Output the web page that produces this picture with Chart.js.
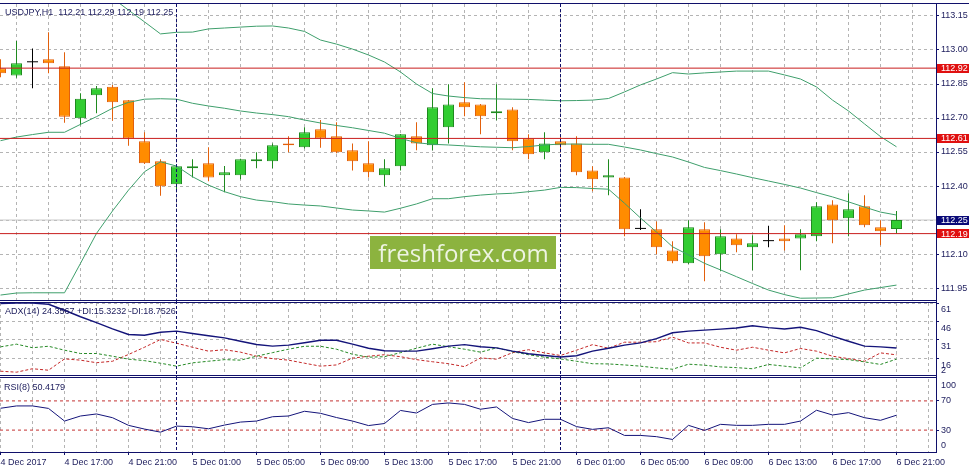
<!DOCTYPE html>
<html>
<head>
<meta charset="utf-8">
<script src="https://cdn.jsdelivr.net/npm/chart.js@4.4.1/dist/chart.umd.min.js"></script>
<style>
html, body { margin: 0; padding: 0; background: #fff; }
#wrap { position: relative; width: 969px; height: 469px; overflow: hidden; background: #fff; }
#wrap canvas { position: absolute; left: 0; }
</style>
</head>
<body>
<div id="wrap">
  <canvas id="main" width="969" height="301" style="top:0"></canvas>
  <canvas id="adx" width="969" height="76" style="top:301px"></canvas>
  <canvas id="rsi" width="969" height="92" style="top:377px"></canvas>
</div>
<script>
// USDJPY H1, one value per candle (index 0 = 4 Dec 13:00)
var timeLabels = ["4 Dec 2017", "4 Dec 17:00", "4 Dec 21:00", "5 Dec 01:00", "5 Dec 05:00", "5 Dec 09:00",
  "5 Dec 13:00", "5 Dec 17:00", "5 Dec 21:00", "6 Dec 01:00", "6 Dec 05:00", "6 Dec 09:00",
  "6 Dec 13:00", "6 Dec 17:00", "6 Dec 21:00"];

var opens = [112.919,112.887,112.948,112.959,112.928,112.699,112.800,112.838,112.778,112.597,
  112.509,112.408,112.478,112.500,112.447,112.447,112.509,112.509,112.588,112.571,
  112.650,112.619,112.558,112.500,112.447,112.487,112.619,112.580,112.659,112.769,
  112.760,112.721,112.738,112.610,112.549,112.597,112.588,112.468,112.438,112.438,
  112.213,112.209,112.116,112.059,112.209,112.099,112.169,112.130,112.159,112.169,
  112.169,112.178,112.319,112.258,112.311,112.218,112.210];
var highs = [112.959,113.040,113.007,113.078,112.990,112.809,112.841,112.846,112.779,112.637,
  112.518,112.490,112.518,112.571,112.488,112.520,112.549,112.588,112.619,112.659,
  112.691,112.681,112.588,112.597,112.518,112.630,112.681,112.831,112.849,112.858,
  112.762,112.849,112.747,112.628,112.637,112.628,112.619,112.487,112.518,112.440,
  112.297,112.243,112.156,112.249,112.240,112.209,112.187,112.183,112.225,112.227,
  112.209,112.328,112.337,112.368,112.359,112.249,112.290];
var lows = [112.880,112.878,112.831,112.897,112.679,112.668,112.721,112.688,112.578,112.497,
  112.357,112.386,112.438,112.421,112.372,112.430,112.478,112.478,112.549,112.565,
  112.569,112.545,112.468,112.438,112.399,112.468,112.558,112.558,112.588,112.708,
  112.628,112.690,112.558,112.518,112.518,112.549,112.447,112.377,112.359,112.178,
  112.206,112.099,112.059,112.056,111.980,112.024,112.108,112.028,112.130,112.116,
  112.028,112.156,112.147,112.178,112.218,112.139,112.190];
var closes = [112.897,112.941,112.948,112.941,112.706,112.785,112.831,112.769,112.610,112.500,
  112.399,112.487,112.487,112.438,112.461,112.518,112.518,112.580,112.580,112.637,
  112.610,112.549,112.509,112.461,112.478,112.628,112.588,112.747,112.760,112.747,
  112.708,112.730,112.597,112.540,112.588,112.580,112.461,112.430,112.447,112.209,
  112.213,112.130,112.068,112.218,112.090,112.178,112.139,112.147,112.159,112.156,
  112.187,112.311,112.249,112.297,112.227,112.200,112.250];

// Bollinger bands
var bbUpper = [113.27,113.29,113.30,113.30,113.29,113.27,113.25,113.229,113.176,113.124,
  113.071,113.078,113.079,113.093,113.097,113.101,113.105,113.106,113.097,113.082,
  113.044,113.026,113.004,112.978,112.947,112.903,112.850,112.808,112.797,112.790,
  112.785,112.784,112.783,112.782,112.779,112.776,112.777,112.779,112.786,112.815,
  112.846,112.872,112.900,112.894,112.899,112.903,112.907,112.907,112.907,112.890,
  112.872,112.837,112.779,112.731,112.674,112.618,112.573];
var bbMiddle = [112.600,112.616,112.627,112.637,112.637,112.672,112.706,112.743,112.769,112.783,
  112.785,112.783,112.765,112.753,112.743,112.731,112.722,112.715,112.706,112.691,
  112.678,112.667,112.657,112.645,112.633,112.610,112.591,112.584,112.581,112.577,
  112.573,112.571,112.569,112.574,112.581,112.585,112.585,112.584,112.584,112.572,
  112.559,112.543,112.528,112.506,112.482,112.468,112.453,112.437,112.422,112.407,
  112.391,112.371,112.352,112.330,112.307,112.285,112.272];
var bbLower = [111.919,111.928,111.929,111.929,111.929,112.059,112.191,112.290,112.382,112.463,
  112.507,112.488,112.441,112.404,112.375,112.353,112.338,112.331,112.321,112.316,
  112.312,112.303,112.294,112.290,112.285,112.302,112.321,112.344,112.344,112.353,
  112.360,112.365,112.368,112.375,112.382,112.394,112.393,112.389,112.386,112.324,
  112.259,112.197,112.132,112.096,112.059,112.030,112.000,111.970,111.941,111.921,
  111.905,111.906,111.907,111.924,111.941,111.952,111.963];

// ADX(14)
var adxMain = [60.5,61.0,60.9,60.0,55.1,49.8,45.0,40.0,35.4,34.8,
  37.2,38.1,36.2,34.4,32.6,29.9,27.2,25.9,26.7,28.7,
  30.7,30.7,27.5,24.2,22.2,21.8,21.8,23.8,25.9,27.1,
  25.4,24.5,21.8,19.7,18.3,17.1,18.1,21.8,24.2,26.7,
  28.5,32.0,36.8,38.1,38.9,39.7,40.7,42.5,41.0,39.9,
  41.3,38.5,34.0,29.9,25.9,25.3,24.4];
var plusDI = [25.3,27.5,24.6,25.8,22.6,19.9,19.9,17.7,15.3,14.1,
  12.0,9.6,12.3,13.6,14.9,14.5,17.7,20.6,23.4,25.8,
  25.8,23.4,19.3,16.9,17.3,20.6,24.2,27.5,25.4,23.4,
  21.0,24.5,21.4,18.9,16.9,15.5,13.6,11.6,11.4,10.6,
  9.6,8.2,7.1,11.2,10.4,9.0,8.4,7.5,11.0,9.6,
  8.2,16.1,15.5,14.9,13.1,11.0,15.3];
var minusDI = [5.5,4.7,7.5,6.3,15.5,14.5,12.4,13.6,19.1,25.0,
  31.3,28.3,25.0,21.8,23.0,21.0,17.7,15.7,14.5,12.0,
  9.6,10.6,16.1,17.7,18.9,17.3,14.9,13.2,11.6,9.2,
  16.3,15.3,20.6,23.0,20.4,18.3,22.6,27.1,24.2,29.1,
  29.1,29.5,33.2,28.5,28.5,25.0,22.6,25.0,22.6,20.4,
  24.0,21.8,17.7,15.7,13.6,20.4,18.8];

// RSI(8)
var rsi = [59.9,63.1,63.1,59.7,42.4,49.3,52.1,47.0,36.5,31.4,
  27.2,35.5,34.6,31.8,36.9,41.0,42.4,48.3,49.3,55.8,
  53.0,47.2,42.4,36.2,39.0,56.9,53.4,65.2,67.2,65.2,
  58.6,61.7,45.9,40.3,44.8,44.8,34.8,31.0,33.2,22.7,
  22.7,21.0,17.2,36.5,29.6,37.9,36.5,36.5,37.9,37.9,
  42.4,57.2,50.7,53.9,47.0,43.4,50.4];

var priceTicks = [111.95, 112.10, 112.25, 112.40, 112.55, 112.70, 112.85, 113.00, 113.15];
var levels = [112.92, 112.61, 112.19];
var bidPrice = 112.25;
var adxTicks = [61, 46, 31, 16];
var adxMinLabel = 2;
var rsiTicks = [70, 30];
var rsiLevels = [70, 30];
var daySeps = [11, 35];

// colours
var NAVY = '#1c1c5c', FRAME = '#10106a', GRID = '#b4b4b4';
var UP_FILL = '#32cd32', UP_LINE = '#1f8a1f', DN_FILL = '#ff8c00', DN_LINE = '#e2600c';
var BB = '#3f9f6c', LEVEL = '#c81e1e';
var FONT_FAM = '"Liberation Sans", Arial, sans-serif';
var FONT = { family: FONT_FAM, size: 9 };

var X_MIN = -0.03125, X_MAX = 58.46875;
var idx = opens.map(function (v, i) { return i; });
var gridIdx = [];
for (var k = 0; k <= 58; k += 2) gridIdx.push(k);

function isDoji(i) { return opens[i] === closes[i]; }
function fillCol(i) { return isDoji(i) ? '#000' : (closes[i] > opens[i] ? UP_FILL : DN_FILL); }
function lineCol(i) { return isDoji(i) ? '#000' : (closes[i] > opens[i] ? UP_LINE : DN_LINE); }
function series(arr) { return arr.map(function (v, i) { return { x: i, y: v }; }); }
function flat(v) { return [{ x: X_MIN, y: v }, { x: X_MAX, y: v }]; }

function xAxis(showLabels) {
  return {
    type: 'linear', min: X_MIN, max: X_MAX, offset: false,
    afterBuildTicks: function (s) { s.ticks = gridIdx.map(function (v) { return { value: v }; }); },
    grid: {
      display: true, drawOnChartArea: true, color: GRID, lineWidth: 1,
      drawTicks: showLabels, tickLength: 3, tickBorderDash: [],
      tickColor: function (c) { return (c.tick && c.tick.value % 4 === 0 && c.tick.value <= 56) ? FRAME : 'rgba(0,0,0,0)'; }
    },
    border: { display: showLabels, color: FRAME, dash: [3, 3] },
    ticks: {
      display: showLabels, autoSkip: false, maxRotation: 0, minRotation: 0, align: 'start',
      padding: 2, color: NAVY, font: FONT,
      callback: function (v) { return (v % 4 === 0 && v / 4 < timeLabels.length) ? timeLabels[v / 4] : ''; }
    },
    afterFit: function (s) { s.height = showLabels ? 17 : 0; s.paddingLeft = 0; s.paddingRight = 0; }
  };
}

function yAxis(min, max, tickVals, fmt, labelOffset, grid) {
  return {
    position: 'right', min: min, max: max,
    afterBuildTicks: function (s) { s.ticks = tickVals.map(function (v) { return { value: v }; }); },
    ticks: { autoSkip: false, padding: 2, color: NAVY, font: FONT, labelOffset: labelOffset || 0, callback: fmt },
    grid: { display: true, color: GRID, lineWidth: 1, drawOnChartArea: grid !== false, tickLength: 3, tickColor: FRAME, tickBorderDash: [] },
    border: { display: true, color: FRAME, dash: [3, 3] },
    afterFit: function (s) { s.width = 33; s.paddingTop = 0; s.paddingBottom = 0; }
  };
}

function drawSeps(chart, y0, y1) {
  var ctx = chart.ctx, xs = chart.scales.x;
  ctx.save();
  ctx.strokeStyle = FRAME; ctx.lineWidth = 1; ctx.setLineDash([3, 2]);
  daySeps.forEach(function (d) {
    var x = Math.floor(xs.getPixelForValue(d)) + 0.5;
    ctx.beginPath(); ctx.moveTo(x, y0); ctx.lineTo(x, y1); ctx.stroke();
  });
  ctx.restore();
}

function title(ctx, text, x, y) {
  ctx.save();
  ctx.font = '9px ' + FONT_FAM; ctx.fillStyle = NAVY;
  ctx.textAlign = 'left'; ctx.textBaseline = 'alphabetic';
  ctx.fillText(text, x, y);
  ctx.restore();
}

function axisText(chart, text, y, bg, col) {
  var ctx = chart.ctx;
  ctx.save();
  if (bg) { ctx.fillStyle = bg; ctx.fillRect(937, Math.round(y - 4.5), 32, 9); }
  ctx.font = '9px ' + FONT_FAM; ctx.fillStyle = col || NAVY;
  ctx.textAlign = 'left'; ctx.textBaseline = 'middle';
  ctx.fillText(text, 941, y + 0.5);
  ctx.restore();
}

function common(padding) {
  return { responsive: false, animation: false, events: [], devicePixelRatio: 1,
    layout: { autoPadding: false, padding: padding },
    plugins: { legend: { display: false }, tooltip: { enabled: false }, title: { display: false } } };
}

// ---- main price panel ----
var dojis = idx.filter(isDoji);
var mainDecor = {
  id: 'mainDecor',
  afterDatasetsDraw: function (chart) {
    var ctx = chart.ctx;
    drawSeps(chart, 4, 301);
    ctx.save();
    ctx.fillStyle = '#8cb33f';
    ctx.fillRect(370, 236, 186, 33);
    ctx.fillStyle = '#eef4e2';
    ctx.font = '24px "Open Sans", sans-serif';
    ctx.textAlign = 'center'; ctx.textBaseline = 'alphabetic';
    ctx.fillText('freshforex.com', 463.5, 262);
    ctx.restore();
  },
  afterDraw: function (chart) {
    var ctx = chart.ctx, ys = chart.scales.y;
    levels.forEach(function (v) { axisText(chart, v.toFixed(2), ys.getPixelForValue(v), '#e01010', '#fff'); });
    axisText(chart, bidPrice.toFixed(2), ys.getPixelForValue(bidPrice), '#0a0a78', '#fff');
    ctx.save();
    ctx.fillStyle = FRAME;
    ctx.fillRect(0, 3, 969, 1);
    ctx.fillRect(0, 300, 936, 1);
    ctx.fillRect(936, 3, 1, 298);
    ctx.restore();
    title(ctx, 'USDJPY,H1  112.21 112.29 112.19 112.25', 5, 15);
  }
};

var mainOpts = common({ top: 4, bottom: 1, left: 0, right: 0 });
mainOpts.scales = {
  x: xAxis(false),
  y: yAxis(111.8972, 113.2029, priceTicks, function (v) { return v.toFixed(2); })
};

new Chart(document.getElementById('main'), {
  type: 'bar',
  data: {
    datasets: [
      { type: 'line', data: series(bbUpper), borderColor: BB, borderWidth: 1, pointRadius: 0, order: 0 },
      { type: 'line', data: series(bbMiddle), borderColor: BB, borderWidth: 1, pointRadius: 0, order: 0 },
      { type: 'line', data: series(bbLower), borderColor: BB, borderWidth: 1, pointRadius: 0, order: 0 },
      { type: 'line', data: dojis.map(function (i) { return { x: i, y: opens[i] }; }), showLine: false,
        pointStyle: 'line', pointRadius: 5.5, pointBorderColor: '#000', pointBorderWidth: 1, order: 1 },
      { type: 'bar', data: idx.filter(function (i) { return !isDoji(i); }).map(function (i) { return { x: i, y: [opens[i], closes[i]] }; }),
        barThickness: 11, borderWidth: 1, borderSkipped: false, inflateAmount: 0, grouped: false, order: 2,
        backgroundColor: function (c) { return fillCol(c.raw.x); },
        borderColor: function (c) { return lineCol(c.raw.x); } },
      { type: 'bar', data: idx.map(function (i) { return { x: i, y: [lows[i], highs[i]] }; }),
        barThickness: 1, borderWidth: 0, inflateAmount: 0, grouped: false, order: 3,
        backgroundColor: function (c) { return lineCol(c.raw.x); } },
      { type: 'line', data: flat(levels[0]), borderColor: LEVEL, borderWidth: 1, pointRadius: 0, order: -1 },
      { type: 'line', data: flat(levels[1]), borderColor: LEVEL, borderWidth: 1, pointRadius: 0, order: -1 },
      { type: 'line', data: flat(levels[2]), borderColor: LEVEL, borderWidth: 1, pointRadius: 0, order: -1 },
      { type: 'line', data: flat(bidPrice), borderColor: '#c8c8c8', borderWidth: 1, pointRadius: 0, order: 6 }
    ]
  },
  options: mainOpts,
  plugins: [mainDecor]
});

// ---- ADX panel ----
var adxDecor = {
  id: 'adxDecor',
  afterDatasetsDraw: function (chart) { drawSeps(chart, 0, 76); },
  afterDraw: function (chart) {
    var ctx = chart.ctx;
    axisText(chart, String(adxMinLabel), chart.scales.y.getPixelForValue(adxMinLabel) - 5.5);
    ctx.save();
    ctx.fillStyle = FRAME;
    ctx.fillRect(0, 1, 936, 1);
    ctx.fillRect(0, 74, 936, 1);
    ctx.fillRect(936, 0, 1, 76);
    ctx.restore();
    title(ctx, 'ADX(14) 24.3567 +DI:15.3232 -DI:18.7526', 5, 13);
  }
};

var adxOpts = common({ top: 2, bottom: 1.5, left: 0, right: 0 });
adxOpts.scales = {
  x: xAxis(false),
  y: yAxis(2, 61, adxTicks, function (v) { return String(v); }, 7)
};

new Chart(document.getElementById('adx'), {
  type: 'line',
  data: {
    datasets: [
      { data: series(adxMain), borderColor: '#14147a', borderWidth: 1.4, pointRadius: 0 },
      { data: series(plusDI), borderColor: '#268a26', borderWidth: 1, borderDash: [3, 2], pointRadius: 0 },
      { data: series(minusDI), borderColor: '#c42828', borderWidth: 1, borderDash: [3, 2], pointRadius: 0 }
    ]
  },
  options: adxOpts,
  plugins: [adxDecor]
});

// ---- RSI panel ----
var rsiDecor = {
  id: 'rsiDecor',
  afterDatasetsDraw: function (chart) { drawSeps(chart, 0, chart.chartArea.bottom); },
  afterDraw: function (chart) {
    var ctx = chart.ctx, ys = chart.scales.y;
    axisText(chart, '100', ys.getPixelForValue(100) + 6.3);
    axisText(chart, '0', ys.getPixelForValue(0) - 6.7);
    ctx.save();
    ctx.fillStyle = FRAME;
    ctx.fillRect(0, 0, 936, 1);
    ctx.fillRect(936, 0, 1, chart.chartArea.bottom);
    ctx.restore();
    title(ctx, 'RSI(8) 50.4179', 4, 13);
  }
};

var rsiOpts = common({ top: 2, bottom: 0, left: 0, right: 0 });
rsiOpts.scales = {
  x: xAxis(true),
  y: yAxis(0, 100, rsiTicks, function (v) { return String(v); }, 0, false)
};

new Chart(document.getElementById('rsi'), {
  type: 'line',
  data: {
    datasets: [
      { data: series(rsi), borderColor: '#14147a', borderWidth: 1, pointRadius: 0 },
      { data: flat(rsiLevels[0]), borderColor: '#c43232', borderWidth: 1, borderDash: [3, 3], pointRadius: 0 },
      { data: flat(rsiLevels[1]), borderColor: '#c43232', borderWidth: 1, borderDash: [3, 3], pointRadius: 0 }
    ]
  },
  options: rsiOpts,
  plugins: [rsiDecor]
});
</script>
</body>
</html>
